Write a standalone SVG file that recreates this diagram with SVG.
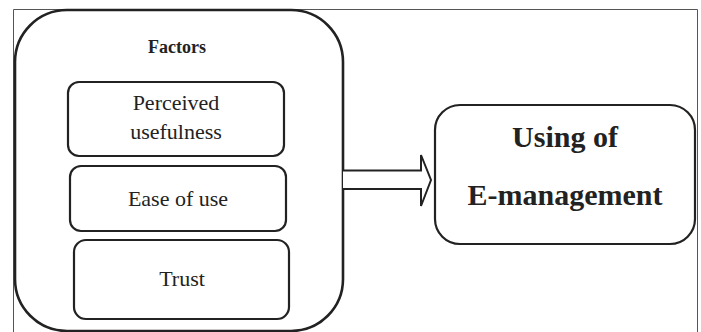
<svg xmlns="http://www.w3.org/2000/svg" width="701" height="332" viewBox="0 0 701 332">
<style>
.frame{fill:none;stroke:#555;stroke-width:1}
.box{fill:#fff;stroke:#222;stroke-width:2.2}
text{font-family:"Liberation Serif","Times New Roman",Tinos,"DejaVu Serif",serif;fill:#222;text-anchor:middle}
.r{font-size:22px;font-weight:normal}
.b{font-weight:bold}
.conn{fill:#fff;stroke:#222;stroke-width:2;stroke-linejoin:miter}
</style>
<rect width="701" height="332" fill="#fff"/>
<path class="frame" d="M13.5,333 V9.5 H697.5 V333"/>
<g id="factors">
<rect class="box" x="15" y="10" width="328" height="321" rx="52" ry="52" style="stroke-width:2.6"/>
<text class="b" x="177" y="53" font-size="18">Factors</text>
</g>
<g id="perceived-usefulness">
<rect class="box" x="68" y="82" width="216" height="74" rx="11"/>
<text class="r" x="176" y="110">Perceived</text>
<text class="r" x="176" y="139">usefulness</text>
</g>
<g id="ease-of-use">
<rect class="box" x="70" y="166" width="216" height="65" rx="11"/>
<text class="r" x="178" y="206">Ease of use</text>
</g>
<g id="trust">
<rect class="box" x="74" y="240" width="215" height="79" rx="12"/>
<text class="r" x="182" y="286">Trust</text>
</g>
<g id="connectors">
<path class="conn" d="M343,170.5 H421 V155 L431,180 L421,206 V189 H343"/>
</g>
<g id="using-e-management">
<rect class="box" x="435" y="105" width="260" height="139" rx="25"/>
<text class="b" x="565" y="147" font-size="30">Using of</text>
<text class="b" x="565" y="205" font-size="30">E-management</text>
</g>
</svg>
